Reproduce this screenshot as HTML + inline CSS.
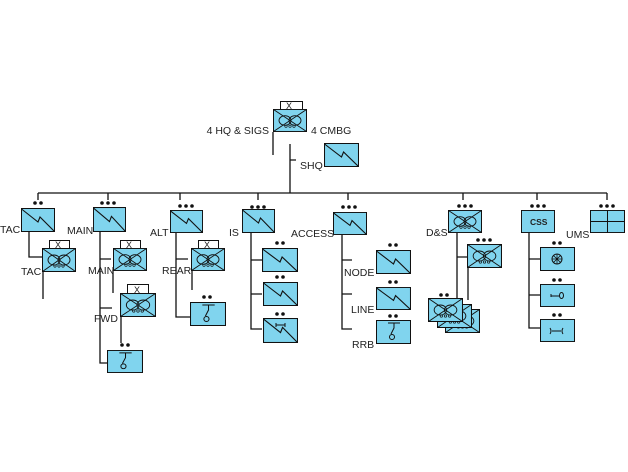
<!DOCTYPE html>
<html><head><meta charset="utf-8"><style>
html,body{margin:0;padding:0;background:#fff;}
svg{display:block;}
text{font-family:"Liberation Sans",sans-serif;font-size:10.5px;fill:#222;}
</style></head><body>
<svg width="628" height="472" viewBox="0 0 628 472" xmlns="http://www.w3.org/2000/svg">
<defs>
<symbol id="sig" viewBox="0 0 34 24" preserveAspectRatio="none">
<rect x="0.5" y="0.5" width="33" height="23" fill="#80d4ee" stroke="#111" stroke-width="1"/>
<path d="M0.5,1 L17,14 L19,9 L33.5,23.5" fill="none" stroke="#111" stroke-width="1.1"/>
</symbol>
<symbol id="hq" viewBox="0 0 34 24" preserveAspectRatio="none">
<rect x="0.5" y="0.5" width="33" height="23" fill="#80d4ee" stroke="#111" stroke-width="1"/>
<path d="M0.5,0.5 L33.5,23.5 M33.5,0.5 L0.5,23.5" stroke="#111" stroke-width="0.9"/>
<ellipse cx="12" cy="12" rx="6" ry="5" fill="none" stroke="#111" stroke-width="0.9"/>
<ellipse cx="22" cy="12" rx="6" ry="5" fill="none" stroke="#111" stroke-width="0.9"/>
<circle cx="13" cy="18" r="1.2" fill="none" stroke="#111" stroke-width="0.7"/>
<circle cx="17" cy="18" r="1.2" fill="none" stroke="#111" stroke-width="0.7"/>
<circle cx="21" cy="18" r="1.2" fill="none" stroke="#111" stroke-width="0.7"/>
</symbol>
<symbol id="ant" viewBox="0 0 35 24" preserveAspectRatio="none">
<rect x="0.5" y="0.5" width="34" height="23" fill="#80d4ee" stroke="#111" stroke-width="1"/>
<path d="M12,3 H24 M18,3 V8 L15,14" fill="none" stroke="#111" stroke-width="1"/>
<circle cx="16" cy="17" r="2.5" fill="none" stroke="#111" stroke-width="1"/>
</symbol>
<symbol id="box" viewBox="0 0 35 24" preserveAspectRatio="none">
<rect x="0.5" y="0.5" width="34" height="23" fill="#80d4ee" stroke="#111" stroke-width="1"/>
</symbol>
</defs>

<g stroke="#111" stroke-width="1.3" fill="none">
<!-- top -->
<path d="M273,132 V155 M290,144 V193 M290,160 H296"/>
<path d="M38,193 H607"/>
<path d="M38,193 V200 M108,193 V200 M180,193 V200 M258,193 V200 M348,193 V200 M463,193 V200 M537,193 V200 M607,193 V200"/>
<!-- TAC -->
<path d="M29,232 V257 H42 M43,272 V299"/>
<!-- MAIN -->
<path d="M100,232 V363 H107 M100,259 H111 M100,308 H112 M113,270 V293 M121,317 V343"/>
<!-- ALT -->
<path d="M176,233 V317 H190 M176,259 H188 M192,271 V290"/>
<!-- IS -->
<path d="M251,233 V329 H262 M251,260 H262 M251,294 H262"/>
<!-- ACCESS -->
<path d="M342,235 V329 H352 M342,260 H352 M342,294 H352"/>
<!-- D&S -->
<path d="M457,233 V300 M457,257 H467 M468,268 V300"/>
<!-- CSS -->
<path d="M529,233 V328 H540 M529,259 H540 M529,295 H540"/>
</g>

<!-- HQ -->
<rect x="280.5" y="101.5" width="22" height="8" fill="#fff" stroke="#111"/>
<text x="286" y="109" style="font-size:9px">X</text>
<use href="#hq" x="273" y="109" width="34" height="23"/>
<text x="269" y="134" text-anchor="end">4 HQ &amp; SIGS</text>
<text x="311" y="134">4 CMBG</text>
<use href="#sig" x="324" y="143" width="35" height="24"/>
<text x="300" y="169">SHQ</text>

<!-- dots -->
<g fill="#111">
<circle cx="35" cy="203" r="1.8"/><circle cx="41" cy="203" r="1.8"/>
<circle cx="102" cy="203" r="1.8"/><circle cx="108" cy="203" r="1.8"/><circle cx="114" cy="203" r="1.8"/>
<circle cx="180" cy="206" r="1.8"/><circle cx="186" cy="206" r="1.8"/><circle cx="192" cy="206" r="1.8"/>
<circle cx="252" cy="207" r="1.8"/><circle cx="258" cy="207" r="1.8"/><circle cx="264" cy="207" r="1.8"/>
<circle cx="343" cy="207" r="1.8"/><circle cx="349" cy="207" r="1.8"/><circle cx="355" cy="207" r="1.8"/>
<circle cx="459" cy="206" r="1.8"/><circle cx="465" cy="206" r="1.8"/><circle cx="471" cy="206" r="1.8"/>
<circle cx="532" cy="206" r="1.8"/><circle cx="538" cy="206" r="1.8"/><circle cx="544" cy="206" r="1.8"/>
<circle cx="601" cy="206" r="1.8"/><circle cx="607" cy="206" r="1.8"/><circle cx="613" cy="206" r="1.8"/>
<circle cx="277" cy="243" r="1.8"/><circle cx="283" cy="243" r="1.8"/>
<circle cx="277" cy="277" r="1.8"/><circle cx="283" cy="277" r="1.8"/>
<circle cx="277" cy="314" r="1.8"/><circle cx="283" cy="314" r="1.8"/>
<circle cx="390" cy="245" r="1.8"/><circle cx="396" cy="245" r="1.8"/>
<circle cx="390" cy="282" r="1.8"/><circle cx="396" cy="282" r="1.8"/>
<circle cx="390" cy="316" r="1.8"/><circle cx="396" cy="316" r="1.8"/>
<circle cx="478" cy="240" r="1.8"/><circle cx="484" cy="240" r="1.8"/><circle cx="490" cy="240" r="1.8"/>
<circle cx="441" cy="295" r="1.8"/><circle cx="447" cy="295" r="1.8"/>
<circle cx="554" cy="243" r="1.8"/><circle cx="560" cy="243" r="1.8"/>
<circle cx="554" cy="280" r="1.8"/><circle cx="560" cy="280" r="1.8"/>
<circle cx="554" cy="315" r="1.8"/><circle cx="560" cy="315" r="1.8"/>
<circle cx="204" cy="297" r="1.8"/><circle cx="210" cy="297" r="1.8"/>
<circle cx="122" cy="345" r="1.8"/><circle cx="128" cy="345" r="1.8"/>
</g>

<!-- TAC -->
<use href="#sig" x="21" y="208" width="34" height="24"/>
<text x="0" y="233">TAC</text>
<rect x="49.5" y="240.5" width="20" height="8" fill="#fff" stroke="#111"/>
<text x="55" y="248" style="font-size:9px">X</text>
<use href="#hq" x="42" y="248" width="34" height="24"/>
<text x="21" y="275">TAC</text>

<!-- MAIN -->
<use href="#sig" x="93" y="207" width="33" height="25"/>
<text x="67" y="234">MAIN</text>
<rect x="120.5" y="240.5" width="20" height="8" fill="#fff" stroke="#111"/>
<text x="126" y="248" style="font-size:9px">X</text>
<use href="#hq" x="113" y="248" width="34" height="23"/>
<text x="88" y="274">MAIN</text>
<rect x="127.5" y="284.5" width="21" height="9" fill="#fff" stroke="#111"/>
<text x="134" y="293" style="font-size:9px">X</text>
<use href="#hq" x="120" y="293" width="36" height="24"/>
<text x="94" y="322">FWD</text>
<use href="#ant" x="107" y="350" width="36" height="23"/>

<!-- ALT -->
<use href="#sig" x="170" y="210" width="33" height="23"/>
<text x="150" y="236">ALT</text>
<rect x="198.5" y="240.5" width="20" height="8" fill="#fff" stroke="#111"/>
<text x="204" y="248" style="font-size:9px">X</text>
<use href="#hq" x="191" y="248" width="34" height="23"/>
<text x="162" y="274">REAR</text>
<use href="#ant" x="190" y="302" width="36" height="24"/>

<!-- IS -->
<use href="#sig" x="242" y="209" width="33" height="24"/>
<text x="229" y="236">IS</text>
<use href="#sig" x="262" y="248" width="36" height="24"/>
<use href="#sig" x="263" y="282" width="35" height="24"/>
<use href="#sig" x="263" y="318" width="35" height="25"/>
<path d="M276,325 H285 M276,323 V327 M285,323 V327" stroke="#111" stroke-width="1"/>

<!-- ACCESS -->
<use href="#sig" x="333" y="212" width="34" height="23"/>
<text x="291" y="237">ACCESS</text>
<use href="#sig" x="376" y="250" width="35" height="24"/>
<text x="344" y="276">NODE</text>
<use href="#sig" x="376" y="287" width="35" height="23"/>
<text x="351" y="313">LINE</text>
<use href="#ant" x="376" y="320" width="35" height="24"/>
<text x="352" y="348">RRB</text>

<!-- D&S -->
<use href="#hq" x="448" y="210" width="34" height="23"/>
<text x="426" y="236">D&amp;S</text>
<use href="#hq" x="467" y="244" width="35" height="24"/>
<use href="#hq" x="445" y="309" width="35" height="24"/>
<use href="#hq" x="437" y="304" width="35" height="24"/>
<use href="#hq" x="428" y="298" width="35" height="24"/>

<!-- CSS -->
<use href="#box" x="521" y="210" width="34" height="23"/>
<text x="530" y="225" style="font-size:8.5px;font-weight:bold">CSS</text>
<use href="#box" x="540" y="247" width="35" height="24"/>
<circle cx="557" cy="259" r="5" fill="none" stroke="#111" stroke-width="1"/>
<path d="M557,254 V264 M552,259 H562 M553.5,255.5 L560.5,262.5 M560.5,255.5 L553.5,262.5" stroke="#111" stroke-width="0.8"/>
<use href="#box" x="540" y="284" width="35" height="23"/>
<path d="M551,297 V294 M551,296 H559" stroke="#111" stroke-width="1"/>
<ellipse cx="561.5" cy="295.5" rx="2" ry="3" fill="none" stroke="#111" stroke-width="1"/>
<use href="#box" x="540" y="319" width="35" height="23"/>
<path d="M550,328 Q552,331 550,334 M552,331 H561 M563,328 Q561,331 563,334" fill="none" stroke="#111" stroke-width="1"/>

<!-- UMS -->
<use href="#box" x="590" y="210" width="35" height="23"/>
<path d="M607.5,210 V233 M590,221.5 H625" stroke="#111" stroke-width="1"/>
<text x="566" y="238">UMS</text>
</svg>
</body></html>
